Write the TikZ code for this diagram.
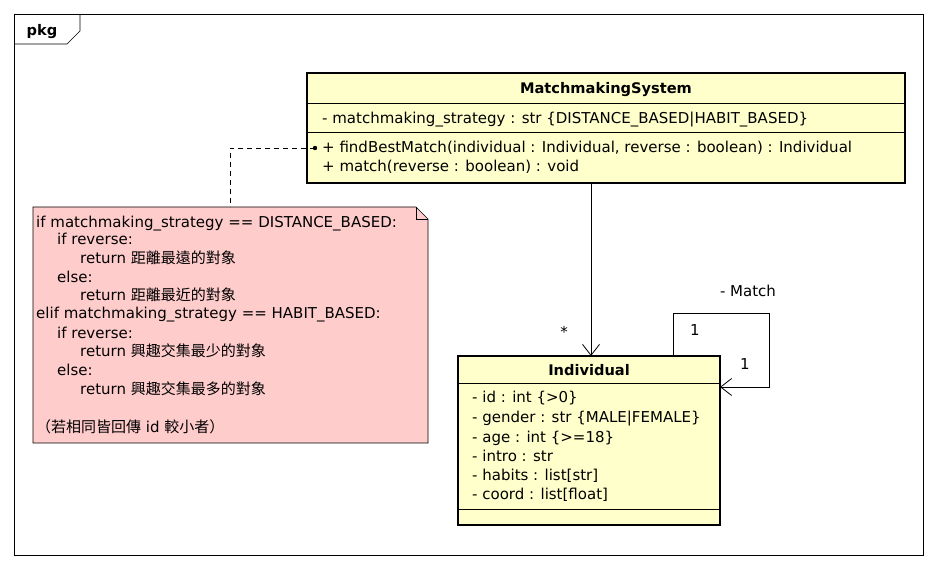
\documentclass[tikz,border=0pt]{standalone}
\usepackage{fontspec}
\setmainfont{DejaVu Sans}
\newfontfamily\cjk{Noto Sans CJK TC}
\usetikzlibrary{arrows.meta}
\definecolor{classfill}{HTML}{FFFFCC}
\definecolor{notefill}{HTML}{FFCCCC}
\begin{document}
\begin{tikzpicture}[x=1pt,y=-1pt,
  txt/.style={anchor=base west, inner sep=0pt, font=\fontsize{15}{17}\selectfont},
  ttl/.style={anchor=base, inner sep=0pt, font=\fontsize{14.6}{17}\selectfont\bfseries},
  lbl/.style={anchor=base, inner sep=0pt, font=\fontsize{15}{17}\selectfont},
  classbox/.style={draw, line width=2.5pt, fill=classfill, inner sep=0pt},
  sep/.style={line width=0.8pt},
  conn/.style={line width=0.8pt},
  openv/.style={-{Straight Barb[length=11pt,width=17pt,line width=0.8pt]}}]
\useasboundingbox (0,0) rectangle (938,569);
\fill[white] (0,0) rectangle (938,569);
% frame
\draw[line width=0.6pt] (14,14) rectangle (923,555);
\draw[line width=0.6pt] (14,44) -- (67,44) -- (80,31) -- (80,14);
\node[ttl, anchor=base] (pkg) at (42,36) {pkg};
% MatchmakingSystem
\node[classbox, minimum width=598pt, minimum height=110pt] (ms) at (606,128) {};
\draw[sep] (307,103) -- (905,103);
\draw[sep] (307,132) -- (905,132);
\node[ttl] (mst) at (606,94) {MatchmakingSystem};
\node[txt] (msa) at (322,124) {- matchmaking\_strategy : str \{DISTANCE\_BASED|HABIT\_BASED\}};
\node[txt] (msm1) at (322,153) {+ findBestMatch(individual : Individual, reverse : boolean) : Individual};
\node[txt] (msm2) at (322,172) {+ match(reverse : boolean) : void};
% Individual
\node[classbox, minimum width=262pt, minimum height=169pt] (ind) at (589,440.5) {};
\draw[sep] (458,383) -- (720,383);
\draw[sep] (458,509) -- (720,509);
\node[ttl] (indt) at (589,376) {Individual};
\node[txt] (i1) at (472,403) {- id : int \{>0\}};
\node[txt] (i2) at (472,423) {- gender : str \{MALE|FEMALE\}};
\node[txt] (i3) at (472,443) {- age : int \{>=18\}};
\node[txt] (i4) at (472,462) {- intro : str};
\node[txt] (i5) at (472,481) {- habits : list[str]};
\node[txt] (i6) at (472,500) {- coord : list[float]};
% Note
\draw[line width=0.6pt, fill=notefill] (33,207) -- (416,207) -- (428,219) -- (428,443) -- (33,443) -- cycle;
\draw[line width=0.6pt] (416,207) -- (416,219) -- (428,219);
\node[txt] (n1) at (36,228) {if matchmaking\_strategy == DISTANCE\_BASED:};
\node[txt] (n2) at (57,245) {if reverse:};
\node[txt] (n3) at (80,264) {return {\cjk 距離最遠的對象}};
\node[txt] (n4) at (57,283) {else:};
\node[txt] (n5) at (80,301) {return {\cjk 距離最近的對象}};
\node[txt] (n6) at (36,319) {elif matchmaking\_strategy == HABIT\_BASED:};
\node[txt] (n7) at (57,339) {if reverse:};
\node[txt] (n8) at (80,357) {return {\cjk 興趣交集最少的對象}};
\node[txt] (n9) at (57,376) {else:};
\node[txt] (n10) at (80,395) {return {\cjk 興趣交集最多的對象}};
\node[txt] (n12) at (36,433) {{\cjk （若相同皆回傳} id {\cjk 較小者）}};
% note anchor
\coordinate (dot) at (315,148);
\coordinate (notetop) at (230,207);
\fill (dot) circle (2.2pt);
\draw[conn, dashed, dash pattern=on 5pt off 4pt] (dot) -| (notetop);
% association
\coordinate (msb) at (591,183);
\coordinate (indtop) at (591,356);
\draw[conn, openv] (msb) -- (indtop);
\node[lbl] (star) at (564,338) {*};
% self association
\coordinate (selfa) at (673,356);
\coordinate (selfb) at (720,387);
\draw[conn, openv] (selfa) -- (673,313) -- (769,313) -- (769,387) -- (selfb);
\node[lbl] (m1) at (695,336) {1};
\node[lbl] (m2) at (745,370) {1};
\node[lbl] (mname) at (748,297) {- Match};
\end{tikzpicture}
\end{document}
